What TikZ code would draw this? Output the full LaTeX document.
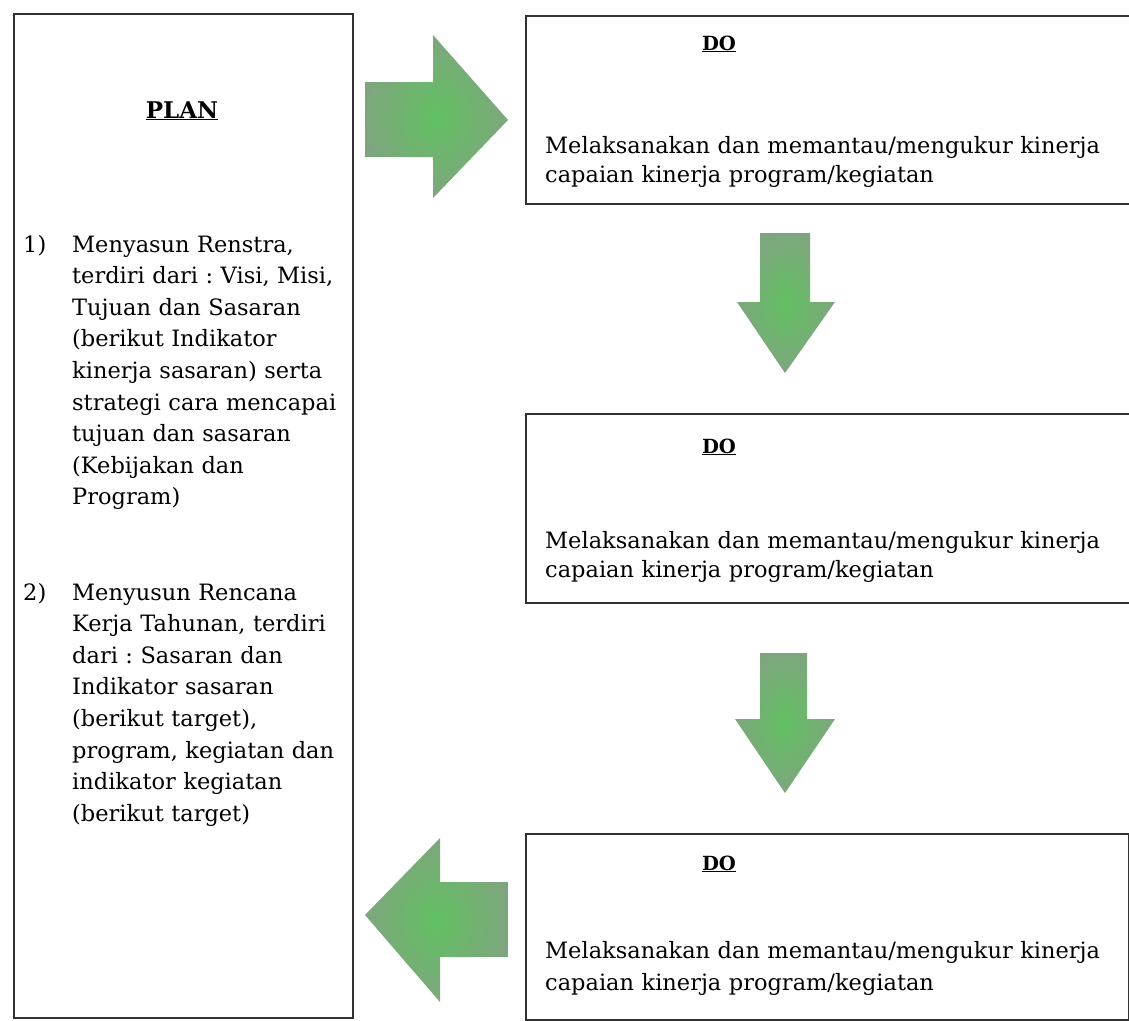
\documentclass[tikz,border=0pt]{standalone}
\usepackage{fontspec}
\setmainfont{DejaVu Serif}
\definecolor{arrin}{RGB}{98,192,98}
\definecolor{arrout}{RGB}{126,166,126}
\definecolor{frame}{RGB}{50,50,50}
\frenchspacing
\begin{document}
\begin{tikzpicture}[x=1pt,y=-1pt,
  box/.style={draw=frame, line width=1.8pt, inner sep=0pt, anchor=north west},
  body/.style={font=\fontsize{22.5}{#1}\selectfont, align=left, inner sep=0pt, anchor=base west, text width=560pt},
  plantext/.style={font=\fontsize{22.5}{31.6}\selectfont, align=left, inner sep=0pt, anchor=base west, text width=275pt},
  lbl/.style={font=\fontsize{22.5}{31.6}\selectfont, inner sep=0pt, anchor=base west},
  ttl/.style={font=\bfseries\fontsize{#1}{#1}\selectfont, inner sep=0pt, anchor=base},
  fat/.style={inner color=arrin, outer color=arrout}]
\useasboundingbox (0,0) rectangle (1129,1020);

% boxes
\node[box, minimum width=339pt, minimum height=1004pt] (plan) at (13,13) {};
\node[box, minimum width=620pt, minimum height=188pt] (do1) at (525,15) {};
\node[box, minimum width=620pt, minimum height=189pt] (do2) at (525,413) {};
\node[box, minimum width=603pt, minimum height=186pt] (do3) at (525,833) {};

% PLAN content
\node[ttl=23] (plantitle) at (182,118) {\underline{PLAN}};
\node[lbl] (n1) at (23,252) {1)};
\node[plantext] (item1) at (72,252) {Menyasun Renstra,\\terdiri dari : Visi, Misi,\\Tujuan dan Sasaran\\(berikut Indikator\\kinerja sasaran) serta\\strategi cara mencapai\\tujuan dan sasaran\\(Kebijakan dan\\Program)};
\node[lbl] (n2) at (23,600) {2)};
\node[plantext] (item2) at (72,600) {Menyusun Rencana\\Kerja Tahunan, terdiri\\dari : Sasaran dan\\Indikator sasaran\\(berikut target),\\program, kegiatan dan\\indikator kegiatan\\(berikut target)};

% DO content
\node[ttl=19.5] (t1) at (719,50) {\underline{DO}};
\node[body=29.5] (b1) at (545,153) {Melaksanakan dan memantau/mengukur kinerja\\capaian kinerja program/kegiatan};
\node[ttl=19.5] (t2) at (719,453) {\underline{DO}};
\node[body=29.5] (b2) at (545,548) {Melaksanakan dan memantau/mengukur kinerja\\capaian kinerja program/kegiatan};
\node[ttl=19.5] (t3) at (719,870) {\underline{DO}};
\node[body=32] (b3) at (545,958) {Melaksanakan dan memantau/mengukur kinerja\\capaian kinerja program/kegiatan};

% fat arrows
\shade[fat] (365,82) -- (433,82) -- (433,35) -- (508,120) -- (433,198) -- (433,157) -- (365,157) -- cycle;
\shade[fat] (760,233) -- (810,233) -- (810,302) -- (835,302) -- (785,373) -- (737,302) -- (760,302) -- cycle;
\shade[fat] (760,653) -- (807,653) -- (807,719) -- (835,719) -- (785,793) -- (735,719) -- (760,719) -- cycle;
\shade[fat] (365,915) -- (440,838) -- (440,882) -- (508,882) -- (508,957) -- (440,957) -- (440,1002) -- cycle;
\end{tikzpicture}
\end{document}
